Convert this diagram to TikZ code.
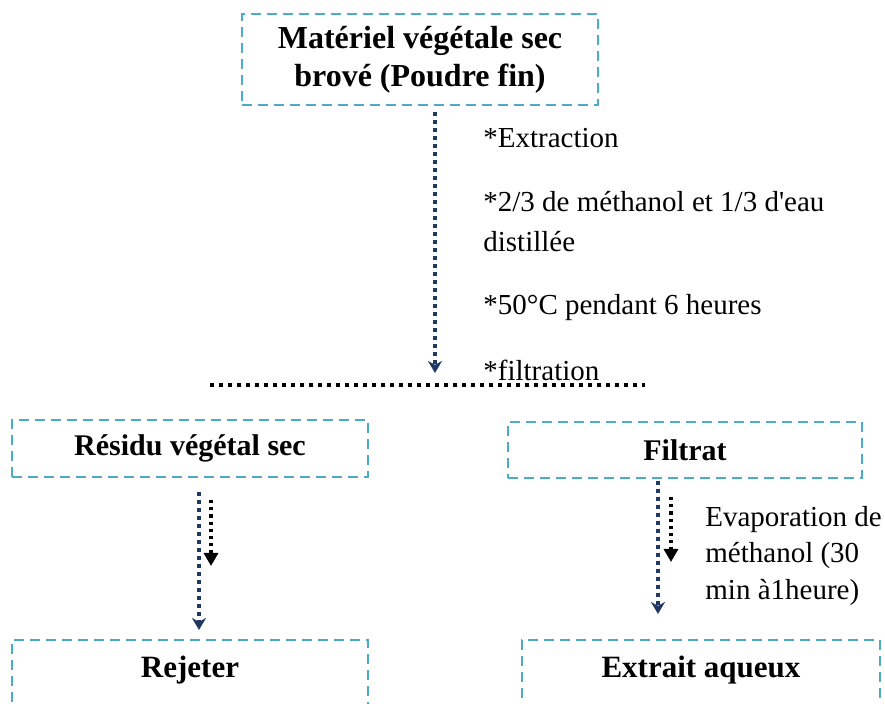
\documentclass[tikz,border=0pt]{standalone}
\usepackage{fontspec}
\setmainfont{Liberation Serif}
\usetikzlibrary{arrows.meta}
\definecolor{boxblue}{HTML}{4BACC6}
\definecolor{navy}{HTML}{1F3864}

\begin{document}
\begin{tikzpicture}
        [x=0.5pt,y=-0.5pt]
            \tikzstyle{etape}=[draw=boxblue, line width=1pt,
        dash pattern=on 5pt off 3pt, inner sep=0pt, align=center,
        font=\fontsize{15}{19}\selectfont\bfseries]
            \tikzstyle{texte}=[anchor=west, inner sep=0pt, align=left,
        font=\fontsize{14.5}{20}\selectfont]
            \tikzstyle{grandfl}=[navy, line width=2pt,
        dash pattern=on 2pt off 2pt, -{Stealth[length=6pt,width=7pt]}]
            \tikzstyle{petitfl}=[black, line width=1.6pt,
        dash pattern=on 1.6pt off 2pt, -{Triangle[length=6.5pt,width=7pt]}]
        \useasboundingbox (0,0) rectangle (885,704);
        \clip (0,0) rectangle (885,704);
        %-----boites
         \node[etape, minimum width=178pt, minimum height=45.5pt,
               font=\fontsize{16}{19}\selectfont\bfseries] (mat) at (420,60)
              {Matériel végétale sec\\brové (Poudre fin)};
         \node[etape, minimum width=178pt, minimum height=28.5pt] (res) at (190,448.5) {Résidu végétal sec};
         \node[etape, minimum width=177pt, minimum height=28pt] (fil) at (685,450) {Filtrat};
         \node[etape, minimum width=178pt, minimum height=34pt] (rej) at (190,674) {};
         \node[etape, minimum width=179pt, minimum height=34pt] (ext) at (701,674) {};
         \node[font=\fontsize{15.5}{19}\selectfont\bfseries] (rejt) at (190,670) {Rejeter};
         \node[font=\fontsize{15.5}{19}\selectfont\bfseries] (extt) at (701,670) {Extrait aqueux};
        %-----textes
         \node[texte] (t1) at (483,138) {*Extraction};
         \node[texte] (t2) at (483,222) {*2/3 de méthanol et 1/3 d\textquotesingle eau\\distillée};
         \node[texte] (t3) at (483,308) {*50°C pendant 6 heures};
         \node[texte] (t4) at (483,370) {*filtration};
         \node[texte, font=\fontsize{14.5}{18.25}\selectfont] (t5) at (705,556)
              {Evaporation de\\méthanol (30\\min à1heure)};
        %-----points
         \coordinate (m1) at (435,112);
         \coordinate (m2) at (435,373);
         \coordinate (g) at (210,385);
         \coordinate (d) at (645,385);
         \coordinate (r1) at (199,492);
         \coordinate (r2) at (199,630);
         \coordinate (r3) at (211,500);
         \coordinate (r4) at (211,566);
         \coordinate (f1) at (658,481);
         \coordinate (f2) at (658,614);
         \coordinate (f3) at (671,497);
         \coordinate (f4) at (671,562);

         \draw[line width=2pt, dash pattern=on 2pt off 2.5pt] (g) -- (d);

         \foreach \from/\to in {m1/m2, r1/r2, f1/f2}
         \draw[grandfl] (\from) -- (\to);
         \foreach \from/\to in {r3/r4, f3/f4}
         \draw[petitfl] (\from) -- (\to);

        \end{tikzpicture}
\end{document}
